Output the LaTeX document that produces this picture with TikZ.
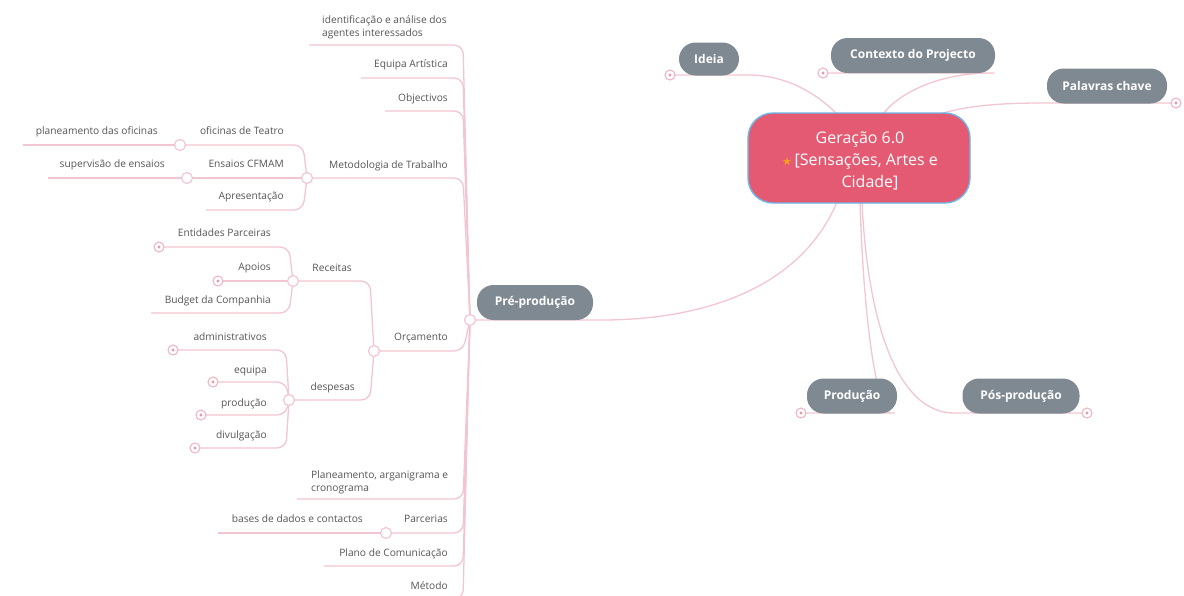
\documentclass[tikz,border=0pt]{standalone}
\usepackage{fontspec}
\setmainfont{Open Sans}
\newfontfamily\symfont{DejaVu Sans}
\definecolor{lnk}{HTML}{F2C6D0}
\definecolor{ring}{HTML}{EDB6C4}
\definecolor{dotc}{HTML}{E597AD}
\definecolor{pillc}{HTML}{7F8991}
\definecolor{txtg}{HTML}{555555}
\definecolor{cen}{HTML}{E35A72}
\definecolor{cenb}{HTML}{6CB6E8}
\definecolor{starc}{HTML}{F4A21C}
\begin{document}
\begin{tikzpicture}[x=1pt,y=-1pt,
  lnkline/.style={draw=lnk, line width=1.3pt, rounded corners=9pt},
  lbl/.style={font=\fontsize{10.2}{13}\selectfont, text=txtg, inner sep=0pt, text height=7.6pt, text depth=2.6pt, anchor=east},
  lbl2/.style={font=\fontsize{10.2}{13}\selectfont, text=txtg, inner sep=0pt, align=left, anchor=west},
  opencirc/.style={circle, draw=lnk, fill=white, line width=1.2pt, minimum size=11pt, inner sep=0pt},
  foldcirc/.style={circle, draw=ring, fill=white, line width=1.1pt, minimum size=10pt, inner sep=0pt,
     path picture={\fill[dotc] (path picture bounding box.center) circle (1.7pt);}},
  pillnode/.style={rectangle, rounded corners=16.5pt, fill=pillc, text=white, inner sep=0pt,
     font=\bfseries\fontsize{12}{14}\selectfont, minimum height=35pt}
]
\useasboundingbox (0,0) rectangle (1184,595);

% ---------- named points ----------
\coordinate (cPre) at (470,320);
\coordinate (cMet) at (307,178);
\coordinate (cOfi) at (180,145);
\coordinate (cEns) at (187,178);
\coordinate (cOrc) at (374,351);
\coordinate (cRec) at (293,281);
\coordinate (cDes) at (289,400);
\coordinate (cPar) at (386,533);
\coordinate (fEnt) at (159,247);
\coordinate (fApo) at (218,281);
\coordinate (fAdm) at (173,350);
\coordinate (fEqu) at (213,382);
\coordinate (fPrd) at (201,415);
\coordinate (fDiv) at (195,448);
\coordinate (eIde) at (309,45);
\coordinate (eEqA) at (361,78);
\coordinate (eObj) at (385,111);
\coordinate (ePla) at (297,499);
\coordinate (ePlC) at (324,566);
\coordinate (eMeT) at (400,599);
\coordinate (ePlo) at (23,145);
\coordinate (eSup) at (48,178);
\coordinate (eApr) at (206,210);
\coordinate (eBud) at (151,313);
\coordinate (eBas) at (218,533);
\coordinate (fIdeia) at (670,75);
\coordinate (fCtx) at (823,73);
\coordinate (fPal) at (1176,103);
\coordinate (fProd) at (801,413);
\coordinate (fPos) at (1087,413);
\coordinate (sIdeia) at (837,114);
\coordinate (sCtx) at (883,114);
\coordinate (sPal) at (940,114);
\coordinate (sPre) at (837,202);
\coordinate (sProd) at (860,202);
\coordinate (sPos) at (862,202);
\coordinate (jIdeia) at (739,75);
\coordinate (jCtx) at (1000,73);
\coordinate (jPal) at (1050,103);
\coordinate (jPre) at (593,320);
\coordinate (jProd) at (900,413);
\coordinate (jPos) at (963,413);

% ---------- connectors, left tree ----------
\foreach \p/\yy in {eIde/45, eEqA/78, eObj/111, cMet/178, cOrc/351, ePla/499, cPar/533, ePlC/566, eMeT/599}
  \draw[lnkline] (cPre) -- (463,\yy) -- (\p);
\draw[lnkline] (cMet) -- (303,145) -- (cOfi);
\draw[lnkline] (cMet) -- (cEns);
\draw[lnkline] (cMet) -- (303,210) -- (eApr);
\draw[lnkline] (cOfi) -- (ePlo);
\draw[lnkline] (cEns) -- (eSup);
\draw[lnkline] (cOrc) -- (370,281) -- (cRec);
\draw[lnkline] (cOrc) -- (370,400) -- (cDes);
\draw[lnkline] (cRec) -- (289,247) -- (fEnt);
\draw[lnkline] (cRec) -- (fApo);
\draw[lnkline] (cRec) -- (289,313) -- (eBud);
\draw[lnkline] (cDes) -- (286,350) -- (fAdm);
\draw[lnkline] (cDes) -- (286,382) -- (fEqu);
\draw[lnkline] (cDes) -- (286,415) -- (fPrd);
\draw[lnkline] (cDes) -- (286,448) -- (fDiv);
\draw[lnkline] (cPar) -- (eBas);

% ---------- connectors, main branches ----------
\draw[lnkline] (sPre) .. controls (800,290) and (700,320) .. (jPre) -- (cPre);
\draw[lnkline] (sIdeia) .. controls (815,92) and (785,75) .. (jIdeia) -- (fIdeia);
\draw[lnkline] (sCtx) .. controls (900,92) and (940,73) .. (jCtx) -- (fCtx);
\draw[lnkline] (sPal) .. controls (965,106) and (1000,103) .. (jPal) -- (fPal);
\draw[lnkline] (sProd) .. controls (864,330) and (878,413) .. (jProd) -- (fProd);
\draw[lnkline] (sPos) .. controls (868,330) and (900,413) .. (jPos) -- (fPos);

% ---------- central node ----------
\node[rectangle, rounded corners=25pt, fill=cen, draw=cenb, line width=1.4pt,
      minimum width=222pt, minimum height=90pt, inner sep=0pt] (central) at (859,158) {};
\node[font=\fontsize{16}{22}\selectfont, text=white, align=center, inner sep=0pt] (centralText) at (860,161)
  {Geração 6.0\\{\symfont\color{starc}\fontsize{11}{11}\selectfont ★}\,[Sensações, Artes e\\\hspace*{20pt}Cidade]};

% ---------- pills ----------
\node[pillnode, minimum width=116pt] (pre) at (535,302.5) {Pré-produção};
\node[pillnode, minimum width=60pt, minimum height=33pt] (ideia) at (709,59) {Ideia};
\node[pillnode, minimum width=164pt] (ctx) at (913,55.5) {Contexto do Projecto};
\node[pillnode, minimum width=120pt] (pal) at (1107,86) {Palavras chave};
\node[pillnode, minimum width=90pt] (prod) at (852,396) {Produção};
\node[pillnode, minimum width=117pt] (pos) at (1021,396) {Pós-produção};

% ---------- circles ----------
\foreach \c in {cPre, cMet, cOfi, cEns, cOrc, cRec, cDes, cPar}
  \node[opencirc] (n\c) at (\c) {};
\foreach \c in {fEnt, fApo, fAdm, fEqu, fPrd, fDiv, fIdeia, fCtx, fPal, fProd, fPos}
  \node[foldcirc] (n\c) at (\c) {};

% ---------- labels ----------
\node[lbl2] (tIde) at (322,27) {identificação e análise dos\\agentes interessados};
\node[lbl] (tEqA) at (448,65) {Equipa Artística};
\node[lbl] (tObj) at (448,99) {Objectivos};
\node[lbl] (tMet) at (448,166) {Metodologia de Trabalho};
\node[lbl] (tOrc) at (448,338) {Orçamento};
\node[lbl2] (tPla) at (311,482) {Planeamento, arganigrama e\\cronograma};
\node[lbl] (tPar) at (448,520) {Parcerias};
\node[lbl] (tPlC) at (448,554) {Plano de Comunicação};
\node[lbl] (tMeT) at (448,587) {Método};
\node[lbl] (tOfi) at (284,132) {oficinas de Teatro};
\node[lbl] (tEns) at (284,165) {Ensaios CFMAM};
\node[lbl] (tApr) at (284,197) {Apresentação};
\node[lbl] (tPlo) at (158,132) {planeamento das oficinas};
\node[lbl] (tSup) at (165,165) {supervisão de ensaios};
\node[lbl] (tRec) at (352,269) {Receitas};
\node[lbl] (tDes) at (355,388) {despesas};
\node[lbl] (tEnt) at (271,234) {Entidades Parceiras};
\node[lbl] (tApo) at (271,268) {Apoios};
\node[lbl] (tBud) at (271,301) {Budget da Companhia};
\node[lbl] (tAdm) at (267,338) {administrativos};
\node[lbl] (tEqu) at (267,371) {equipa};
\node[lbl] (tPrd) at (267,404) {produção};
\node[lbl] (tDiv) at (267,436) {divulgação};
\node[lbl] (tBas) at (363,520) {bases de dados e contactos};
\end{tikzpicture}
\end{document}
